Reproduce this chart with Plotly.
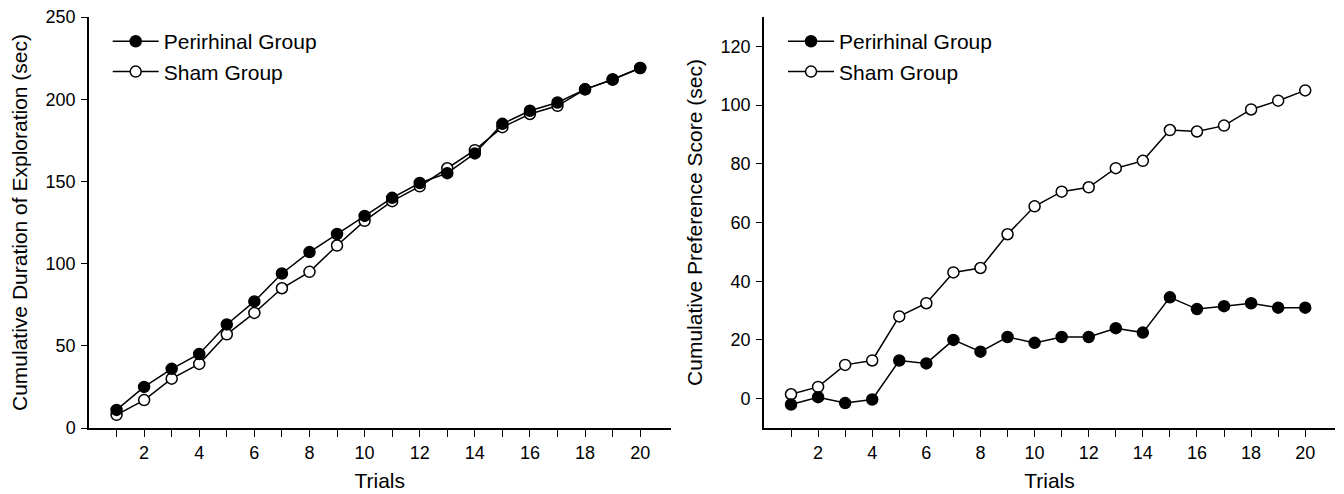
import plotly.graph_objects as go

trials = list(range(1, 21))
tick_text = [str(t) if t % 2 == 0 else "" for t in trials]

dur_perirhinal = [11, 25, 36, 45, 63, 77, 94, 107, 118, 129, 140, 149, 155, 167, 185, 193, 198, 206, 212, 219]
dur_sham = [8, 17, 30, 39, 57, 70, 85, 95, 111, 126, 138, 147, 158, 169, 183, 191, 196, 206, 212, 219]

pref_perirhinal = [-2, 0.5, -1.5, -0.3, 13, 12, 20, 16, 21, 19, 21, 21, 24, 22.5, 34.5, 30.5, 31.5, 32.5, 31, 31]
pref_sham = [1.5, 4, 11.5, 13, 28, 32.5, 43, 44.5, 56, 65.5, 70.5, 72, 78.5, 81, 91.5, 91, 93, 98.5, 101.5, 105]

FONT = "Liberation Sans, Arial, sans-serif"
LINE = dict(color="black", width=1.5)
MK_FILLED = dict(symbol="circle", size=11, color="black", line=dict(color="black", width=1.5))
MK_OPEN = dict(symbol="circle", size=11, color="white", line=dict(color="black", width=1.5))

fig = go.Figure()

# Left panel: sham first so perirhinal is drawn on top
fig.add_trace(go.Scatter(x=trials, y=dur_sham, mode="lines+markers", name="Sham Group",
                         line=LINE, marker=MK_OPEN, xaxis="x", yaxis="y", legend="legend",
                         legendrank=2))
fig.add_trace(go.Scatter(x=trials, y=dur_perirhinal, mode="lines+markers", name="Perirhinal Group",
                         line=LINE, marker=MK_FILLED, xaxis="x", yaxis="y", legend="legend",
                         legendrank=1))

# Right panel
fig.add_trace(go.Scatter(x=trials, y=pref_sham, mode="lines+markers", name="Sham Group",
                         line=LINE, marker=MK_OPEN, xaxis="x2", yaxis="y2", legend="legend2",
                         legendrank=2))
fig.add_trace(go.Scatter(x=trials, y=pref_perirhinal, mode="lines+markers", name="Perirhinal Group",
                         line=LINE, marker=MK_FILLED, xaxis="x2", yaxis="y2", legend="legend2",
                         legendrank=1))

xaxis_common = dict(
    range=[0, 21.1], tickmode="array", tickvals=trials, ticktext=tick_text,
    ticks="outside", ticklen=7, tickwidth=1.2, tickcolor="black",
    showline=True, linecolor="black", linewidth=1.5, showgrid=False, zeroline=False,
    tickfont=dict(family=FONT, size=18, color="black"), ticklabelstandoff=1,
    automargin=False,
    title=dict(text="Trials", font=dict(family=FONT, size=21, color="black"), standoff=11),
)
yaxis_common = dict(
    ticks="outside", ticklen=6, tickwidth=1.2, tickcolor="black",
    showline=True, linecolor="black", linewidth=1.5, showgrid=False, zeroline=False,
    tickfont=dict(family=FONT, size=18, color="black"), ticklabelstandoff=2,
    automargin=False,
)

legend_common = dict(
    font=dict(family=FONT, size=21, color="black"), bgcolor="rgba(0,0,0,0)",
    traceorder="normal", xanchor="left", yanchor="top", itemwidth=46, tracegroupgap=0,
)

fig.update_layout(
    width=1344, height=494,
    margin=dict(l=89, r=9, t=17, b=66),
    paper_bgcolor="white", plot_bgcolor="white",
    showlegend=True,
    xaxis=dict(domain=[0, 0.4667], anchor="y", **xaxis_common),
    yaxis=dict(domain=[0, 1], anchor="x", range=[0, 250], tickvals=[0, 50, 100, 150, 200, 250],
               title=dict(text="Cumulative Duration of Exploration (sec)",
                          font=dict(family=FONT, size=21, color="black"), standoff=12),
               **yaxis_common),
    xaxis2=dict(domain=[0.5417, 1], anchor="y2", **xaxis_common),
    yaxis2=dict(domain=[0, 1], anchor="x2", range=[-10, 130], tickvals=[0, 20, 40, 60, 80, 100, 120],
                title=dict(text="Cumulative Preference Score (sec)",
                           font=dict(family=FONT, size=21, color="black"), standoff=12),
                **yaxis_common),
    legend=dict(x=0.015, y=0.99, **legend_common),
    legend2=dict(x=0.557, y=0.99, **legend_common),
)

fig.write_html("out.html")
